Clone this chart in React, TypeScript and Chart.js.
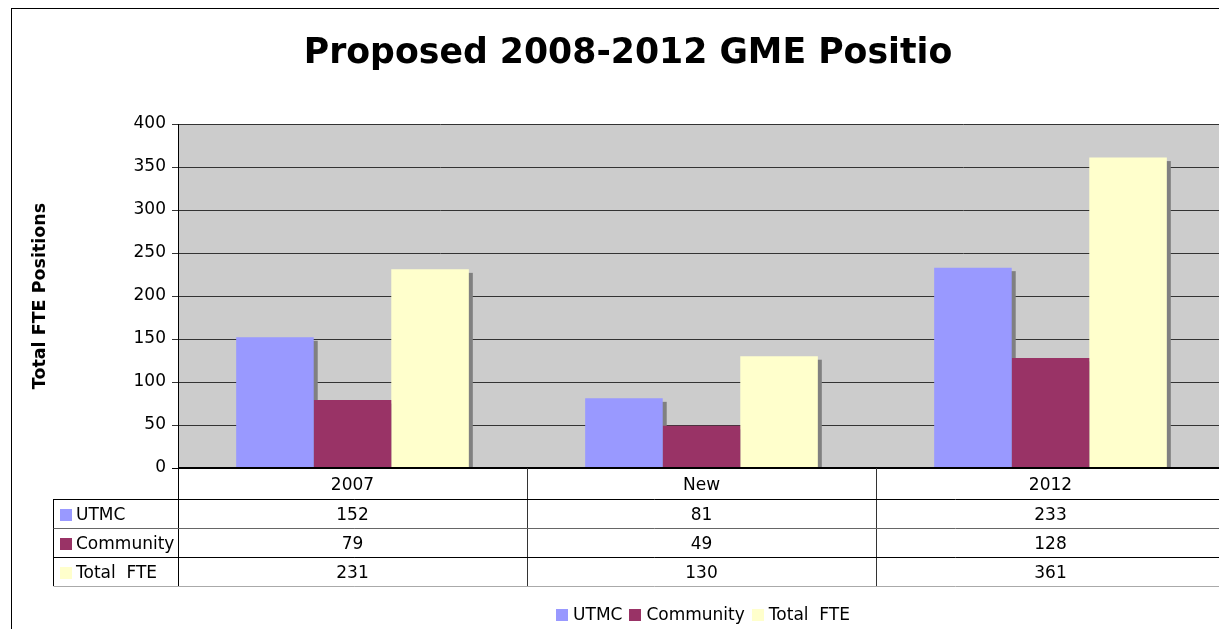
import { useEffect, useRef } from "react";
import { Chart, registerables } from "chart.js";

Chart.register(...registerables);

// ---- data ----
const categories = ["2007", "New", "2012"];
const seriesNames = ["UTMC", "Community", "Total  FTE"];
const utmcValues = [152, 81, 233];
const communityValues = [79, 49, 128];
const totalFteValues = [231, 130, 361];
const seriesColors = ["#9999FF", "#993366", "#FFFFCC"];
const yMin = 0;
const yMax = 400;
const yStep = 50;
const titleText = "Proposed 2008-2012 GME Positio";
const yAxisTitle = "Total FTE Positions";

const FONT = "'DejaVu Sans', Verdana, sans-serif";
const CANVAS_W = 1256;
const CANVAS_H = 629;

const seriesValues = [utmcValues, communityValues, totalFteValues];

const decorPlugin = {
  id: "excelDecor",
  beforeDraw(chart: any) {
    const { ctx, chartArea } = chart;
    ctx.save();
    ctx.fillStyle = "#cccccc";
    ctx.fillRect(chartArea.left, chartArea.top, chartArea.right - chartArea.left, chartArea.bottom - chartArea.top);
    ctx.restore();
  },
  beforeDatasetsDraw(chart: any) {
    // bar shadows, taken from the library's own bar elements
    const { ctx, chartArea } = chart;
    ctx.save();
    ctx.beginPath();
    ctx.rect(chartArea.left, chartArea.top, chartArea.right - chartArea.left, chartArea.bottom - chartArea.top);
    ctx.clip();
    ctx.fillStyle = "#808080";
    chart.data.datasets.forEach((_: any, di: number) => {
      const meta = chart.getDatasetMeta(di);
      meta.data.forEach((el: any) => {
        const p = el.getProps(["x", "y", "base", "width"], true);
        const left = p.x - p.width / 2;
        ctx.fillRect(left + 4, p.y + 3.5, p.width, p.base - p.y);
      });
    });
    ctx.restore();
  },
  afterDraw(chart: any) {
    const { ctx, chartArea } = chart;
    const xs = chart.scales.x;
    const n = categories.length;
    const catW = (xs.right - xs.left) / n;
    const top = chartArea.bottom;
    const headerH = 31;
    const rowH = 29;
    const rowsTop = top + headerH;
    const tableBottom = rowsTop + rowH * seriesNames.length;
    const leftX = 53.5;
    const rightX = CANVAS_W;

    ctx.save();
    // zero line (thicker black)
    ctx.strokeStyle = "#000";
    ctx.lineWidth = 2;
    ctx.beginPath();
    ctx.moveTo(chartArea.left, top);
    ctx.lineTo(rightX, top);
    ctx.stroke();
    ctx.lineWidth = 1;

    // vertical lines of the table
    for (let i = 0; i <= n; i++) {
      const x = Math.round(xs.left + i * catW) + 0.5;
      ctx.strokeStyle = i === 0 ? "#000" : "#333";
      ctx.beginPath();
      ctx.moveTo(x, top);
      ctx.lineTo(x, tableBottom);
      ctx.stroke();
    }
    ctx.strokeStyle = "#000";
    ctx.beginPath();
    ctx.moveTo(leftX, rowsTop);
    ctx.lineTo(leftX, tableBottom);
    ctx.stroke();

    // horizontal lines
    const hColors = ["#000", "#666", "#000", "#aaa"];
    for (let r = 0; r <= seriesNames.length; r++) {
      const y = rowsTop + r * rowH + 0.5;
      ctx.strokeStyle = hColors[r];
      ctx.beginPath();
      ctx.moveTo(leftX, y);
      ctx.lineTo(rightX, y);
      ctx.stroke();
    }

    // header labels
    ctx.fillStyle = "#000";
    ctx.font = `17px ${FONT}`;
    ctx.textAlign = "center";
    ctx.textBaseline = "middle";
    categories.forEach((c, i) => {
      ctx.fillText(c, xs.getPixelForValue(i), top + headerH / 2 + 2);
    });

    // rows
    seriesNames.forEach((name, r) => {
      const cy = rowsTop + r * rowH + rowH / 2 + 2;
      ctx.fillStyle = seriesColors[r];
      ctx.fillRect(60, Math.round(cy - 7), 12, 12);
      ctx.fillStyle = "#000";
      ctx.textAlign = "left";
      ctx.fillText(name, 76, cy);
      ctx.textAlign = "center";
      seriesValues[r].forEach((v, i) => {
        ctx.fillText(String(v), xs.getPixelForValue(i), cy);
      });
    });

    // legend
    const legendCenter = 703;
    const legendY = 615;
    ctx.font = `17px ${FONT}`;
    const widths = seriesNames.map((s) => ctx.measureText(s).width);
    const itemW = widths.map((w) => 12 + 5 + w);
    const gap = 7;
    const totalW = itemW.reduce((a, b) => a + b, 0) + gap * (seriesNames.length - 1);
    let lx = legendCenter - totalW / 2;
    ctx.textAlign = "left";
    seriesNames.forEach((s, i) => {
      ctx.fillStyle = seriesColors[i];
      ctx.fillRect(Math.round(lx), legendY - 6, 12, 12);
      ctx.fillStyle = "#000";
      ctx.fillText(s, lx + 17, legendY + 1);
      lx += itemW[i] + gap;
    });

    // outer chart border
    ctx.strokeStyle = "#000";
    ctx.lineWidth = 1;
    ctx.strokeRect(11.5, 8.5, CANVAS_W + 20, CANVAS_H + 20);
    ctx.restore();
  },
};

export default function App() {
  const canvasRef = useRef<HTMLCanvasElement | null>(null);

  useEffect(() => {
    if (!canvasRef.current) return;
    const chart = new Chart(canvasRef.current, {
      type: "bar",
      data: {
        labels: categories,
        datasets: seriesNames.map((name, i) => ({
          label: name,
          data: seriesValues[i],
          backgroundColor: seriesColors[i],
          borderWidth: 0,
          barPercentage: 1,
          categoryPercentage: 3 / 4.5,
        })),
      },
      options: {
        responsive: false,
        animation: false,
        layout: { padding: { left: 31, right: 31, top: 0, bottom: 161 } },
        plugins: {
          legend: { display: false },
          tooltip: { enabled: false },
          title: {
            display: true,
            text: titleText,
            color: "#000",
            font: { family: FONT, size: 34.7, weight: "bold", lineHeight: 1.2 },
            padding: { top: 33.2, bottom: 49.2 },
          },
        },
        scales: {
          x: {
            display: false,
            offset: true,
          },
          y: {
            min: yMin,
            max: yMax,
            afterFit: (s: any) => {
              s.width = 147;
            },
            ticks: {
              stepSize: yStep,
              color: "#000",
              padding: 6,
              font: { family: FONT, size: 17 },
            },
            grid: {
              color: (c: any) => (c.tick && c.tick.value === 0 ? "#000" : "#333"),
              tickLength: 6,
              drawTicks: true,
            },
            border: { display: true, color: "#000", width: 1 },
            title: {
              display: true,
              text: yAxisTitle,
              color: "#000",
              font: { family: FONT, size: 17.5, weight: "bold", lineHeight: 1 },
              padding: { top: 0.5, bottom: 0 },
            },
          },
        },
      },
      plugins: [decorPlugin],
    });
    return () => chart.destroy();
  }, []);

  return (
    <div
      style={{
        position: "fixed",
        left: 0,
        top: 0,
        width: 1219,
        height: 629,
        overflow: "hidden",
        background: "#fff",
      }}
    >
      <canvas ref={canvasRef} width={CANVAS_W} height={CANVAS_H} style={{ display: "block" }} />
    </div>
  );
}
